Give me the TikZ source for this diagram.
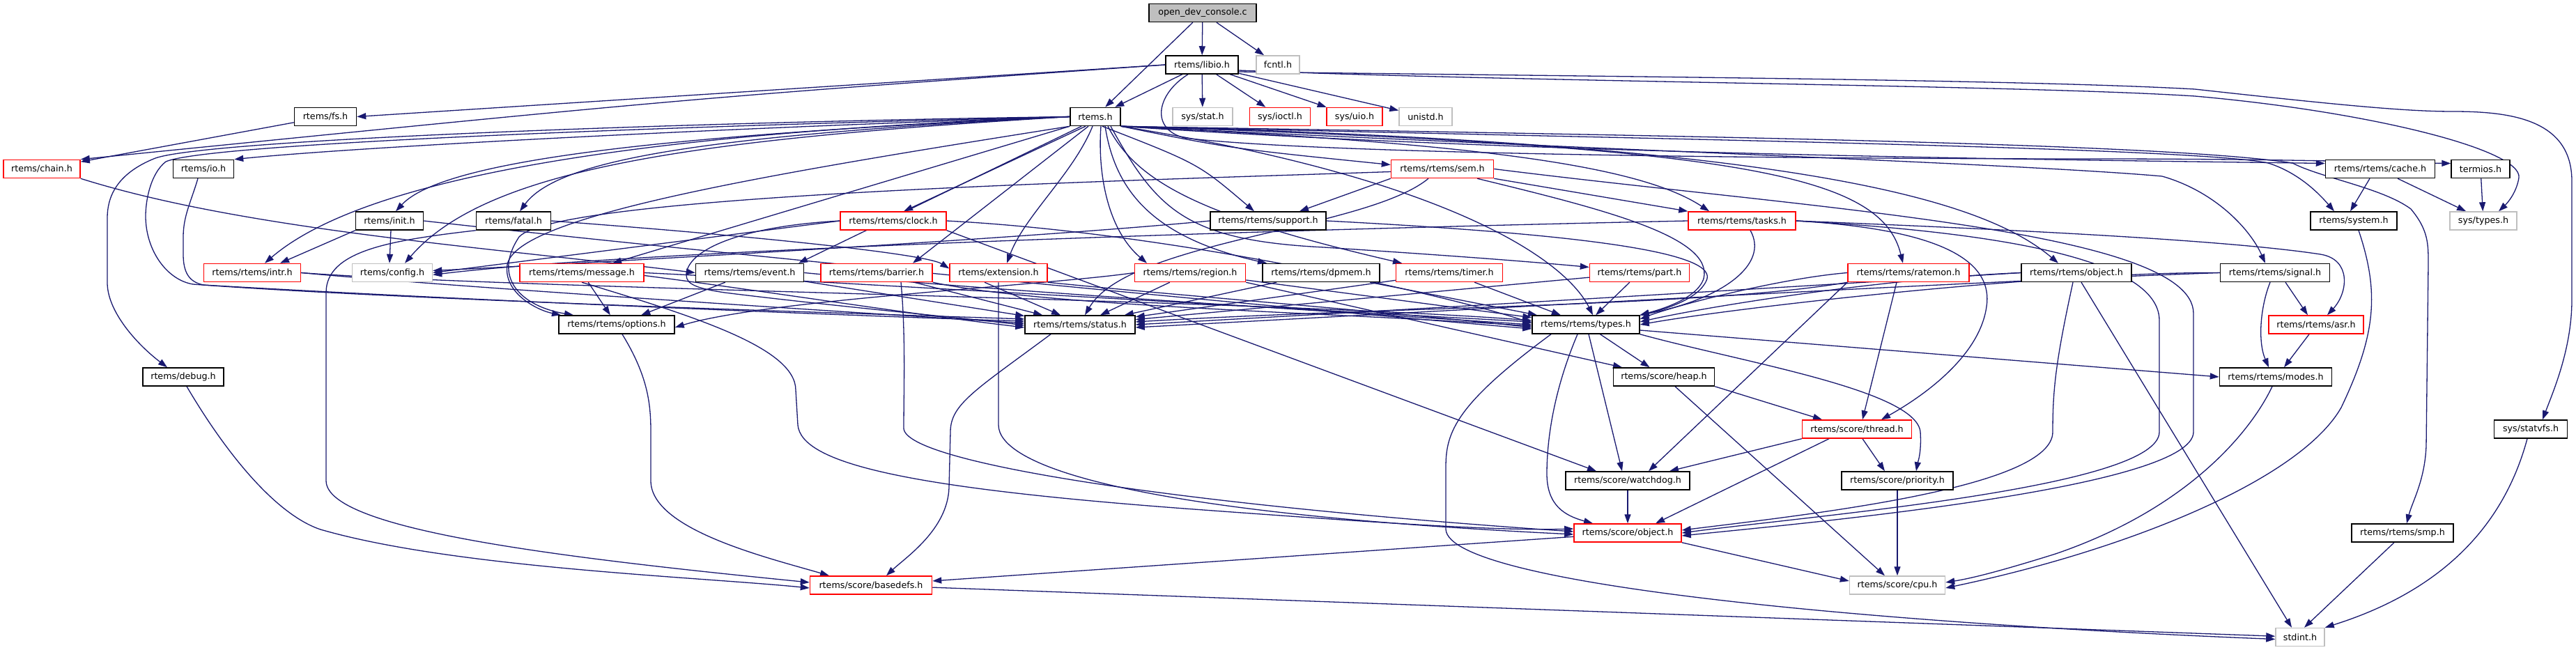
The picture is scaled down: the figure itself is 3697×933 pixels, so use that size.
\documentclass[tikz,border=0pt]{standalone}
\usepackage{fontspec}
\setmainfont{DejaVu Sans}
\usetikzlibrary{arrows.meta}
\definecolor{edgec}{HTML}{191970}
\definecolor{grayb}{HTML}{BFBFBF}
\definecolor{redb}{HTML}{FF0000}
\pgfdeclarelayer{bg}
\pgfsetlayers{bg,main}
\newcommand\hdrfont{\fontsize{12.7pt}{15pt}\selectfont}
\tikzset{
  hb/.style={draw=black, line width=1.5pt, fill=white, minimum height=26pt, inner sep=0pt, font=\hdrfont, text=black},
  hred/.style={hb, draw=redb},
  hgray/.style={hb, draw=grayb},
  e/.style={draw=edgec, line width=1.3pt, -{Triangle[length=13pt,width=9pt]}},
}
\begin{document}
\begin{tikzpicture}[x=1pt,y=-1pt]
\useasboundingbox (0,0) rectangle (3697,933);
% row 0
\node[hb, fill=grayb, minimum width=154pt] (odc) at (1726,18.5) {open\_dev\_console.c};
% row 1
\node[hb, minimum width=104pt] (libio) at (1725,93) {rtems/libio.h};
\node[hgray, minimum width=62pt] (fcntl) at (1834,93) {fcntl.h};
% row 2
\node[hb, minimum width=89pt] (fs) at (467,167.5) {rtems/fs.h};
\node[hb, minimum width=72pt] (rtems) at (1572,167.5) {rtems.h};
\node[hgray, minimum width=86pt] (stat) at (1726,167.5) {sys/stat.h};
\node[hred, minimum width=87pt] (ioctl) at (1837,167.5) {sys/ioctl.h};
\node[hred, minimum width=80pt] (uio) at (1944,167.5) {sys/uio.h};
\node[hgray, minimum width=76pt] (unistd) at (2046,167.5) {unistd.h};
% row 3
\node[hred, minimum width=110pt] (chain) at (60,242.5) {rtems/chain.h};
\node[hb, minimum width=87pt] (io) at (292,242.5) {rtems/io.h};
\node[hred, minimum width=147pt] (sem) at (2070,242.5) {rtems/rtems/sem.h};
\node[hb, minimum width=157pt] (cache) at (3416,242.5) {rtems/rtems/cache.h};
\node[hb, minimum width=84pt] (termios) at (3560,242.5) {termios.h};
% row 4
\node[hb, minimum width=97pt] (init) at (559,317) {rtems/init.h};
\node[hb, minimum width=107pt] (fatal) at (737,317) {rtems/fatal.h};
\node[hred, minimum width=152pt] (clock) at (1282,317) {rtems/rtems/clock.h};
\node[hb, minimum width=166pt] (support) at (1820,317) {rtems/rtems/support.h};
\node[hred, minimum width=154pt] (tasks) at (2500,317) {rtems/rtems/tasks.h};
\node[hb, minimum width=124pt] (system) at (3378,317) {rtems/system.h};
\node[hgray, minimum width=96pt] (systypes) at (3564,317) {sys/types.h};
% row 5
\node[hred, minimum width=139pt] (intr) at (362,391.5) {rtems/rtems/intr.h};
\node[hgray, minimum width=115pt] (config) at (563,391.5) {rtems/config.h};
\node[hred, minimum width=178pt] (message) at (835,391.5) {rtems/rtems/message.h};
\node[hb, minimum width=155pt] (event) at (1076,391.5) {rtems/rtems/event.h};
\node[hred, minimum width=160pt] (barrier) at (1258,391.5) {rtems/rtems/barrier.h};
\node[hred, minimum width=140pt] (extension) at (1433,391.5) {rtems/extension.h};
\node[hred, minimum width=159pt] (region) at (1708,391.5) {rtems/rtems/region.h};
\node[hb, minimum width=168pt] (dpmem) at (1896,391.5) {rtems/rtems/dpmem.h};
\node[hred, minimum width=153pt] (timer) at (2080,391.5) {rtems/rtems/timer.h};
\node[hred, minimum width=143pt] (part) at (2353,391.5) {rtems/rtems/part.h};
\node[hred, minimum width=174pt] (ratemon) at (2739,391.5) {rtems/rtems/ratemon.h};
\node[hb, minimum width=158pt] (robject) at (2980,391.5) {rtems/rtems/object.h};
\node[hb, minimum width=157pt] (signal) at (3265,391.5) {rtems/rtems/signal.h};
% row 6
\node[hb, minimum width=166pt] (options) at (885,466) {rtems/rtems/options.h};
\node[hb, minimum width=158pt] (status) at (1550,466) {rtems/rtems/status.h};
\node[hb, minimum width=154pt] (types) at (2276,466) {rtems/rtems/types.h};
\node[hred, minimum width=136pt] (asr) at (3324,466) {rtems/rtems/asr.h};
% row 7
\node[hb, minimum width=116pt] (debug) at (263,541) {rtems/debug.h};
\node[hb, minimum width=145pt] (heap) at (2388,541) {rtems/score/heap.h};
\node[hb, minimum width=161pt] (modes) at (3266,541) {rtems/rtems/modes.h};
% row 8
\node[hred, minimum width=157pt] (thread) at (2665,616) {rtems/score/thread.h};
\node[hb, minimum width=105pt] (statvfs) at (3632,616) {sys/statvfs.h};
% row 9
\node[hb, minimum width=178pt] (watchdog) at (2336,690) {rtems/score/watchdog.h};
\node[hb, minimum width=160pt] (priority) at (2723,690) {rtems/score/priority.h};
% row 10
\node[hred, minimum width=154pt] (sobject) at (2336,765) {rtems/score/object.h};
\node[hb, minimum width=146pt] (smp) at (3448,765) {rtems/rtems/smp.h};
% row 11
\node[hred, minimum width=175pt] (basedefs) at (1250,840) {rtems/score/basedefs.h};
\node[hgray, minimum width=137pt] (cpu) at (2723,840) {rtems/score/cpu.h};
% row 12
\node[hgray, minimum width=70pt] (stdint) at (3301,914.5) {stdint.h};

\begin{pgfonlayer}{bg}
\fill[white] (0,0) rectangle (3697,933);
% open_dev_console.c
\draw[e] (odc) -- (libio);
\draw[e] (odc) -- (rtems);
\draw[e] (odc) -- (fcntl);
% libio
\draw[e] (libio) -- (rtems);
\draw[e] (libio) -- (stat);
\draw[e] (libio) -- (ioctl);
\draw[e] (libio) -- (uio);
\draw[e] (libio) -- (unistd);
\draw[e] (libio.west) -- (fs.east);
\draw[e] (libio.west) .. controls (1000,140) .. (chain.north east);
\draw[e] ([xshift=-20pt]libio.south) .. controls (1660,135) and (1650,185) .. (1700,198) .. controls (1900,222) and (2600,228) .. (3000,228) .. controls (3300,228) and (3450,234) .. ([yshift=8pt]termios.west);
\draw[e] ([yshift=-8pt]libio.east) .. controls (2200,118) and (2900,122) .. (3150,138) .. controls (3400,160) and (3620,215) .. (3615,255) .. controls (3612,275) and (3600,290) .. ([xshift=22pt]systypes.north);
\draw[e] ([yshift=-10pt]libio.east) .. controls (2300,110) and (2900,114) .. (3150,128) .. controls (3350,150) and (3450,160) .. (3520,160) .. controls (3600,160) and (3691,170) .. (3691,260) -- (3691,430) .. controls (3691,500) and (3665,560) .. ([xshift=17pt]statvfs.north);
\draw[e] (fs) -- (chain);
\draw[e] (chain.south east) .. controls (350,330) and (700,355) .. (event.west);
\draw[e] ([xshift=-8pt]io.south) .. controls (274,290) and (263,310) .. (263,340) -- (263,365) .. controls (263,392) and (272,405) .. (292,409) .. controls (700,433) and (1300,456) .. ([yshift=5pt]status.west);
% rtems.h to the left
\draw[e] (rtems.west) .. controls (1000,175) and (300,200) .. (223,227) .. controls (165,250) and (154,285) .. (154,313) -- (154,407) .. controls (155,450) and (200,497) .. ([xshift=-23pt]debug.north);
\draw[e] (rtems.west) .. controls (1000,180) and (300,205) .. (238,232) .. controls (215,250) and (209,290) .. (209,310) .. controls (209,360) and (240,402) .. (277,408) .. controls (600,432) and (1300,452) .. ([yshift=8pt]status.west);
\draw[e] (rtems.west) .. controls (1000,185) and (500,212) .. (io.north east);
\draw[e] (rtems.west) .. controls (1000,188) and (540,240) .. ([xshift=18pt]intr.north);
\draw[e] (rtems.west) .. controls (1000,192) and (640,225) .. ([xshift=9pt]init.north);
\draw[e] (rtems.west) .. controls (1000,195) and (800,230) .. ([xshift=9pt]fatal.north);
\draw[e] (rtems.west) .. controls (1000,200) and (700,240) .. ([xshift=18pt]config.north);
\draw[e] (rtems.south west) .. controls (1100,250) and (740,310) .. (728,380) .. controls (722,420) and (770,445) .. ([xshift=-80pt]options.north);
\draw[e] (rtems.south west) -- ([xshift=44pt]message.north);
\draw[e] ([xshift=-20pt]rtems.south) -- ([xshift=70pt]event.north);
\draw[e] ([xshift=-14pt]rtems.south) -- ([xshift=15pt]clock.north);
\draw[e] ([xshift=-10pt]rtems.south) -- ([xshift=52pt]barrier.north);
\draw[e] ([xshift=-4pt]rtems.south) .. controls (1540,250) and (1470,310) .. ([xshift=12pt]extension.north);
\draw[e] ([xshift=8pt]rtems.south) .. controls (1575,250) and (1590,330) .. ([xshift=-62pt]region.north);
\draw[e] ([xshift=14pt]rtems.south) .. controls (1600,270) and (1650,340) .. ([xshift=-78pt]dpmem.north);
\draw[e] ([xshift=18pt]rtems.south) .. controls (1630,260) and (1720,310) .. ([xshift=-68pt]timer.north);
\draw[e] ([xshift=22pt]rtems.south) .. controls (1660,300) and (1700,345) .. (1900,355) .. controls (2100,368) and (2200,376) .. ([yshift=8pt]part.west);
\draw[e] ([xshift=10pt]rtems.south) .. controls (1720,235) .. ([xshift=-20pt]support.north);
\draw[e] (rtems.south east) .. controls (1765,213) .. ([yshift=6pt]sem.west);
\draw[e] (rtems.south east) .. controls (2100,205) and (2350,235) .. ([xshift=-47pt]tasks.north);
\draw[e] (rtems.south east) .. controls (2100,260) and (2250,380) .. ([xshift=10pt]types.north);
\draw[e] (rtems.south east) .. controls (2500,210) and (2700,250) .. ([xshift=-8pt]ratemon.north);
\draw[e] (rtems.south east) .. controls (2600,205) and (2850,290) .. ([xshift=-26pt]robject.north);
\draw[e] (rtems.south east) .. controls (2300,215) and (2900,235) .. (3103,253) .. controls (3180,275) and (3230,330) .. ([xshift=-14pt]signal.north);
\draw[e] (rtems.south east) .. controls (2400,200) and (3150,212) .. (3255,234) .. controls (3300,248) and (3330,280) .. ([xshift=-28pt]system.north);
\draw[e] (rtems.south east) .. controls (2200,222) and (3000,230) .. ([yshift=8pt]cache.west);
\draw[e] (rtems.south east) .. controls (2400,195) and (3100,205) .. (3290,234) .. controls (3330,255) and (3420,270) .. (3460,300) .. controls (3485,330) and (3485,350) .. (3485,378) -- (3482,640) .. controls (3480,690) and (3462,720) .. ([xshift=6pt]smp.north);
% init, fatal, intr
\draw[e] (init.south west) -- ([xshift=40pt]intr.north);
\draw[e] ([xshift=2pt]init.south) -- ([xshift=-4pt]config.north);
\draw[e] (init.east) .. controls (900,350) and (1700,430) .. ([yshift=-6pt]types.west);
\draw[e] (fatal.east) .. controls (1100,340) and (1330,365) .. ([yshift=6pt]extension.west);
\draw[e] (fatal.south west) .. controls (560,345) and (468,360) .. (468,420) -- (468,690) .. controls (468,760) and (800,800) .. ([yshift=4pt]basedefs.west);
\draw[e] (intr.east) .. controls (650,412) and (1250,450) .. ([yshift=2pt]status.west);
\draw[e] (intr.east) .. controls (750,415) and (1800,430) .. ([yshift=6pt]types.west);
% clock
\draw[e] (clock.west) -- (config.east);
\draw[e] (clock.south east) -- ([xshift=-45pt]watchdog.north);
\draw[e] (clock.west) .. controls (1060,325) and (985,360) .. (985,395) .. controls (985,408) and (1000,414) .. (1040,420) .. controls (1200,440) and (1400,458) .. ([yshift=-1pt]status.west);
\draw[e] (clock.east) .. controls (1700,335) and (2100,430) .. ([yshift=2pt]types.west);
% message
\draw[e] (message) -- (options);
\draw[e] ([yshift=-4pt]message.east) .. controls (1100,418) and (1300,450) .. ([yshift=-4pt]status.west);
\draw[e] (message.east) .. controls (1200,405) and (1700,435) .. ([yshift=4pt]types.west);
\draw[e] (message.south) .. controls (1000,455) and (1142,500) .. (1142,560) -- (1145,610) .. controls (1150,665) and (1300,700) .. (1700,730) .. controls (2000,752) and (2150,762) .. ([yshift=6pt]sobject.west);
% event
\draw[e] (event) -- (options);
\draw[e] (event) -- (status);
\draw[e] (event.east) .. controls (1400,415) and (1800,440) .. (types.west);
% barrier
\draw[e] (barrier) -- (status);
\draw[e] (barrier.south east) .. controls (1500,440) and (1900,448) .. ([yshift=-2pt]types.west);
\draw[e] ([xshift=35pt]barrier.south) .. controls (1300,480) and (1297,560) .. (1297,615) .. controls (1300,665) and (1700,725) .. ([yshift=2pt]sobject.west);
% extension
\draw[e] ([xshift=-20pt]extension.south) -- ([xshift=-28pt]status.north);
\draw[e] (extension.south east) .. controls (1700,425) and (2000,448) .. ([yshift=-4pt]types.west);
\draw[e] (extension.south) -- (1433,610) .. controls (1433,665) and (1600,735) .. ([yshift=-2pt]sobject.west);
% region
\draw[e] (region.south east) -- ([xshift=-60pt]heap.north);
\draw[e] (region.west) .. controls (1500,410) and (1100,430) .. ([yshift=-4pt]options.east);
\draw[e] (region) -- (status);
\draw[e] (region) -- (types);
% dpmem, timer, part
\draw[e] (dpmem) -- (status);
\draw[e] (dpmem) -- (types);
\draw[e] (timer) -- (status);
\draw[e] (timer) -- (types);
\draw[e] (part) -- (status);
\draw[e] (part) -- (types);
% support
\draw[e] (support.west) .. controls (1500,340) and (900,375) .. ([yshift=3pt]config.east);
\draw[e] (support.east) .. controls (2250,335) and (2460,360) .. (2450,400) .. controls (2440,430) and (2385,445) .. (types.north east);
% sem
\draw[e] (sem.south east) -- (tasks.north west);
\draw[e] (sem.south west) -- ([xshift=45pt]support.north);
\draw[e] ([xshift=-20pt]sem.south) .. controls (1960,330) and (1620,345) .. ([xshift=7pt]status.north);
\draw[e] ([xshift=50pt]sem.south) .. controls (2300,300) and (2460,340) .. (2445,400) .. controls (2435,430) and (2380,445) .. (types.north east);
\draw[e] ([yshift=-4pt]sem.west) .. controls (1600,260) and (800,280) .. (745,340) .. controls (705,400) and (750,440) .. ([xshift=-62pt]options.north);
\draw[e] (sem.east) .. controls (2600,300) and (3148,330) .. (3148,450) -- (3148,620) .. controls (3148,700) and (2600,750) .. ([yshift=-4pt]sobject.east);
% tasks
\draw[e] (tasks.west) .. controls (1800,330) and (900,360) .. ([yshift=-3pt]config.east);
\draw[e] ([xshift=12pt]tasks.south) .. controls (2540,380) and (2470,430) .. (types.north east);
\draw[e] (tasks.east) .. controls (2800,330) and (2860,380) .. (2851,440) .. controls (2840,520) and (2740,580) .. ([xshift=35pt]thread.north);
\draw[e] (tasks.east) .. controls (2900,330) and (3200,345) .. (3330,365) .. controls (3375,372) and (3370,420) .. ([xshift=16pt]asr.north);
\draw[e] (tasks.east) .. controls (2800,330) and (3099,360) .. (3099,460) -- (3099,620) .. controls (3099,700) and (2600,740) .. (sobject.east);
% ratemon
\draw[e] (ratemon.west) .. controls (2550,400) and (2400,440) .. ([yshift=8pt]types.east);
\draw[e] (ratemon.south west) .. controls (2450,440) and (2000,440) .. ([yshift=4pt]status.east);
\draw[e] ([xshift=-17pt]ratemon.south) -- ([xshift=8pt]thread.north);
\draw[e] (ratemon.south west) -- ([xshift=30pt]watchdog.north);
% rtems/rtems/object.h
\draw[e] (robject.west) .. controls (2700,400) and (2450,440) .. ([yshift=4pt]types.east);
\draw[e] (robject.west) .. controls (2600,410) and (2100,440) .. (status.east);
\draw[e] ([xshift=-5pt]robject.south) .. controls (2950,520) and (2946,560) .. (2946,620) .. controls (2946,700) and (2600,738) .. ([yshift=4pt]sobject.east);
\draw[e] ([xshift=7pt]robject.south) -- ([xshift=-12pt]stdint.north);
% signal
\draw[e] (signal.west) .. controls (2950,390) and (2500,440) .. (types.east);
\draw[e] (signal.west) .. controls (2800,405) and (2100,445) .. ([yshift=-4pt]status.east);
\draw[e] ([xshift=15pt]signal.south) -- ([xshift=-12pt]asr.north);
\draw[e] ([xshift=-7pt]signal.south) .. controls (3244,440) and (3240,490) .. ([xshift=-10pt]modes.north);
\draw[e] ([xshift=-10pt]asr.south) -- ([xshift=12pt]modes.north);
% cache, termios, system, modes
\draw[e] ([xshift=-15pt]cache.south) -- ([xshift=-5pt]system.north);
\draw[e] ([xshift=25pt]cache.south) -- ([xshift=-25pt]systypes.north);
\draw[e] (termios) -- (systypes);
\draw[e] ([xshift=7pt]system.south) .. controls (3415,420) and (3410,480) .. (3360,585) .. controls (3300,690) and (3050,790) .. ([yshift=-4pt]cpu.east);
\draw[e] ([xshift=-5pt]modes.south) .. controls (3230,620) and (3140,730) .. (2950,795) .. controls (2870,820) and (2830,830) .. ([yshift=4pt]cpu.east);
% types
\draw[e] (types) -- (heap);
\draw[e] ([xshift=4pt]types.south) -- ([xshift=-8pt]watchdog.north);
\draw[e] ([xshift=-12pt]types.south) .. controls (2230,560) and (2220,630) .. (2220,680) .. controls (2220,725) and (2245,740) .. ([xshift=-50pt]sobject.north);
\draw[e] ([yshift=-8pt]types.east) -- (modes.west);
\draw[e] (types.south east) .. controls (2500,520) and (2750,560) .. (2756,620) .. controls (2758,650) and (2752,665) .. ([xshift=27pt]priority.north);
\draw[e] ([xshift=-50pt]types.south) .. controls (2090,580) and (2075,620) .. (2075,670) -- (2075,760) .. controls (2080,840) and (2700,895) .. ([yshift=-3pt]stdint.west);
% score
\draw[e] (heap.south east) -- ([xshift=-50pt]thread.north);
\draw[e] ([xshift=16pt]heap.south) -- ([xshift=-18pt]cpu.north);
\draw[e] (thread.south west) -- ([xshift=60pt]watchdog.north);
\draw[e] ([xshift=-40pt]thread.south) -- ([xshift=40pt]sobject.north);
\draw[e] ([xshift=8pt]thread.south) -- ([xshift=-18pt]priority.north);
\draw[e] (priority) -- (cpu);
\draw[e] (watchdog) -- (sobject);
\draw[e] (sobject) -- (basedefs);
\draw[e] (sobject.south east) -- ([yshift=6pt]cpu.west);
\draw[e] (basedefs) -- (stdint);
\draw[e] ([xshift=-12pt]smp.south) -- ([xshift=6pt]stdint.north);
\draw[e] ([xshift=-5pt]statvfs.south) .. controls (3600,730) and (3530,840) .. (stdint.north east);
% into basedefs
\draw[e] ([xshift=-42pt]status.south) .. controls (1400,560) and (1364,580) .. (1364,620) -- (1362,700) .. controls (1360,760) and (1300,800) .. ([xshift=22pt]basedefs.north);
\draw[e] ([xshift=8pt]options.south) .. controls (930,540) and (934,580) .. (934,620) -- (934,690) .. controls (934,760) and (1100,800) .. ([xshift=-60pt]basedefs.north);
\draw[e] ([xshift=5pt]debug.south) .. controls (330,660) and (400,740) .. (460,760) .. controls (650,815) and (1000,828) .. ([yshift=-4pt]basedefs.west);
\end{pgfonlayer}
\end{tikzpicture}
\end{document}
